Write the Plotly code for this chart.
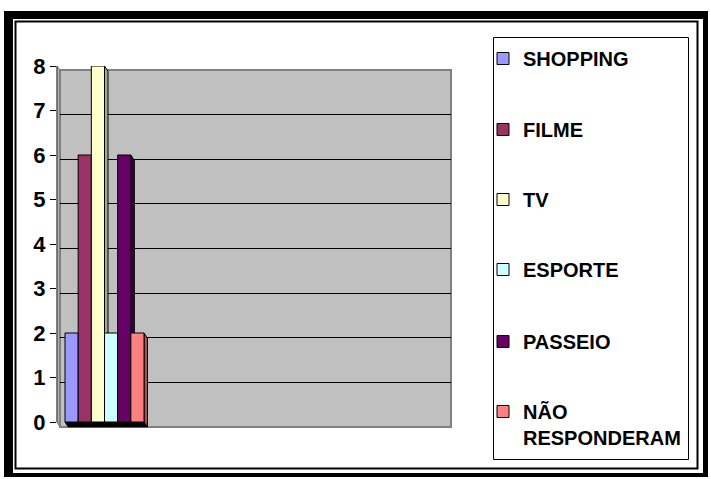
import plotly.graph_objects as go

# ---- data ----
categories = ["SHOPPING", "FILME", "TV", "ESPORTE", "PASSEIO", "NÃO<br>RESPONDERAM"]
values = [2, 6, 8, 2, 6, 2]
colors = ["#9999FF", "#993366", "#FFFFCC", "#CCFFFF", "#660066", "#FF8080"]
side_colors = ["#5C5C99", "#5C1F3D", "#A8A88A", "#8AA8A8", "#3D003D", "#A05050"]
y_ticks = [0, 1, 2, 3, 4, 5, 6, 7, 8]
legend_rows_px = [59, 130, 200, 270, 342, 412]   # vertical position of each legend entry

W, H = 711, 479


def fx(px):
    return px / W


def fy(py):
    return 1 - py / H


FONT = dict(family="Liberation Sans, Arial, sans-serif", size=20, color="black", weight="bold")
TICKFONT = dict(family="Liberation Sans, Arial, sans-serif", size=22, color="black", weight="bold")

# front-plane geometry
X2_DOM = (57, 447)
X2_RANGE = (-0.481, 3.468)
unit_px = (X2_DOM[1] - X2_DOM[0]) / (X2_RANGE[1] - X2_RANGE[0])
BARGAP = 0.2
n = len(values)
group_w = 1 - BARGAP
bar_w = group_w / n
DX = 3.5      # depth offset in px (to the right)
DD = 0.12     # depth offset in y units (downwards)

fig = go.Figure()
# invisible trace so the back-wall subplot (grid lines) is drawn
fig.add_trace(go.Scatter(x=[None], y=[None], xaxis="x", yaxis="y", showlegend=False,
                         hoverinfo="skip", mode="markers"))
for i, (name, v, c) in enumerate(zip(categories, values, colors)):
    fig.add_trace(go.Bar(
        x=[0], y=[v], name=name, legend="legend" if i == 0 else f"legend{i + 1}",
        marker=dict(color=c, line=dict(color="black", width=1)),
        xaxis="x2", yaxis="y2", hoverinfo="skip",
    ))

shapes = [
    # outer frame (thick black + inner thin line)
    dict(type="rect", xref="paper", yref="paper", x0=fx(4), x1=fx(708), y0=fy(477), y1=fy(11),
         fillcolor="black", line=dict(width=0), layer="below"),
    dict(type="rect", xref="paper", yref="paper", x0=fx(13), x1=fx(703), y0=fy(473), y1=fy(19),
         fillcolor="white", line=dict(width=0), layer="below"),
    dict(type="rect", xref="paper", yref="paper", x0=fx(15.5), x1=fx(697.5), y0=fy(468.5), y1=fy(21.5),
         fillcolor="white", line=dict(color="black", width=2), layer="below"),
    # legend box
    dict(type="rect", xref="paper", yref="paper", x0=fx(493.5), x1=fx(688.5), y0=fy(459.5), y1=fy(37.5),
         fillcolor="white", line=dict(color="black", width=1), layer="below"),
    # left side wall
    dict(type="path", xref="paper", yref="paper",
         path=f"M{fx(57)},{fy(66)} L{fx(60)},{fy(70)} L{fx(60)},{fy(427)} L{fx(57)},{fy(422)} Z",
         fillcolor="#B4B4B4", line=dict(color="#808080", width=1), layer="below"),
    # floor
    dict(type="path", xref="paper", yref="paper",
         path=f"M{fx(57)},{fy(422)} L{fx(447)},{fy(422)} L{fx(451)},{fy(427)} L{fx(60)},{fy(427)} Z",
         fillcolor="#B4B4B4", line=dict(color="#808080", width=1), layer="below"),
    # back wall
    dict(type="rect", xref="paper", yref="paper", x0=fx(60), x1=fx(451), y0=fy(427), y1=fy(70),
         fillcolor="#C0C0C0", line=dict(color="#808080", width=2), layer="below"),
]

# 3-D faces of the bars (side face to the right, bottom face below)
for i, (v, sc) in enumerate(zip(values, side_colors)):
    right = -group_w / 2 + (i + 1) * bar_w
    shapes.append(dict(type="path", xref="x2", yref="y2", xsizemode="pixel", xanchor=right,
                       path=f"M0,{v} L{DX},{v - DD} L{DX},{-DD} L0,0 Z",
                       fillcolor=sc, line=dict(color="black", width=1), layer="below"))
gw_px = group_w * unit_px
shapes.append(dict(type="path", xref="x2", yref="y2", xsizemode="pixel", xanchor=-group_w / 2,
                   path=f"M0,0 L{gw_px},0 L{gw_px + DX},{-DD} L{DX},{-DD} Z",
                   fillcolor="black", line=dict(color="black", width=1), layer="below"))

legends = {}
for i, row in enumerate(legend_rows_px):
    key = "legend" if i == 0 else f"legend{i + 1}"
    legends[key] = dict(xref="container", yref="container", x=fx(483), y=fy(row - 20),
                        xanchor="left", yanchor="top", bgcolor="rgba(0,0,0,0)", borderwidth=0,
                        font=FONT, valign="top", itemclick=False, itemdoubleclick=False)

y0_px = 422
y_scale = (422 - 66) / 8
fig.update_layout(
    width=W, height=H, autosize=False,
    margin=dict(l=0, r=0, t=0, b=0, autoexpand=False),
    paper_bgcolor="white", plot_bgcolor="rgba(0,0,0,0)",
    font=FONT,
    barmode="group", bargap=BARGAP, bargroupgap=0,
    showlegend=True,
    shapes=shapes,
    # back wall axes (grid lines)
    xaxis=dict(domain=[fx(60), fx(451)], range=[0, 1], showgrid=False, showticklabels=False,
               zeroline=False, showline=False, ticks="", fixedrange=True),
    yaxis=dict(domain=[fy(427), fy(70)], range=[0, 8], dtick=1, showgrid=True, gridcolor="black",
               gridwidth=1, showticklabels=False, zeroline=False, showline=False, ticks="",
               fixedrange=True),
    # front plane axes (bars + tick labels)
    xaxis2=dict(domain=[fx(X2_DOM[0]), fx(X2_DOM[1])], range=list(X2_RANGE), showgrid=False,
                showticklabels=False, zeroline=False, showline=False, ticks="", anchor="y2",
                fixedrange=True),
    yaxis2=dict(domain=[fy(y0_px + DD * y_scale), fy(66)], range=[-DD, 8], tickvals=y_ticks,
                showgrid=False, zeroline=False, showline=False,
                ticks="outside", ticklen=6, tickcolor="black", tickfont=TICKFONT,
                ticklabelstandoff=0, anchor="x2", fixedrange=True),
    **legends,
)
# vertical axis line of the front plane
fig.add_shape(type="line", xref="x2 domain", yref="y2", x0=0, x1=0, y0=0, y1=8,
              line=dict(color="#404040", width=1), layer="above")

fig.write_html("out.html", config={"displayModeBar": False},
               post_script="document.body.style.margin='0';")
